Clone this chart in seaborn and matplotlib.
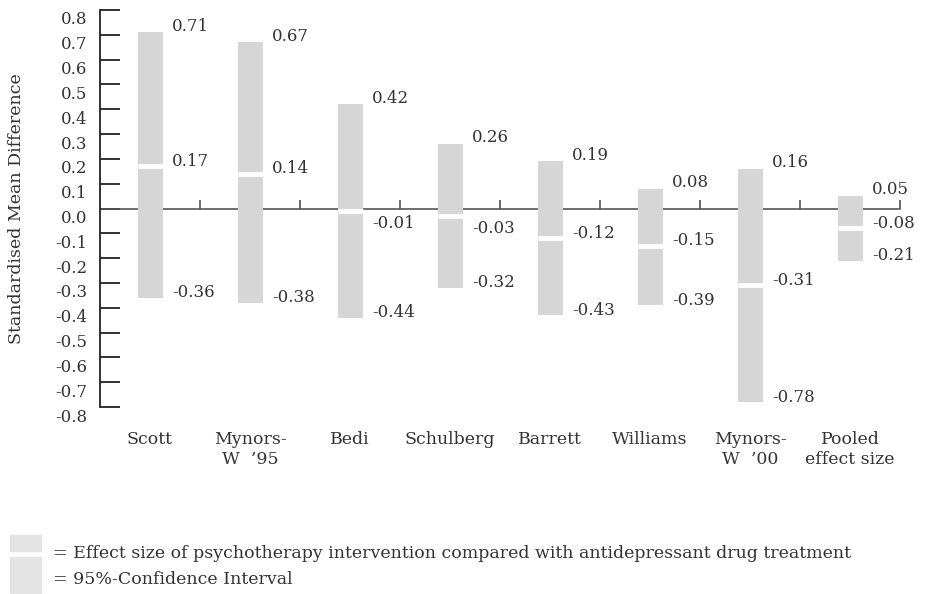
import matplotlib
matplotlib.use("Agg")
import matplotlib.pyplot as plt
import matplotlib.transforms as mtransforms
from matplotlib.patches import Rectangle
import pandas as pd
import seaborn as sns

# Data
studies = ["Scott", "Mynors-\nW  \u201995", "Bedi", "Schulberg", "Barrett",
           "Williams", "Mynors-\nW  \u201900", "Pooled\neffect size"]
upper = [0.71, 0.67, 0.42, 0.26, 0.19, 0.08, 0.16, 0.05]
effect = [0.17, 0.14, -0.01, -0.03, -0.12, -0.15, -0.31, -0.08]
lower = [-0.36, -0.38, -0.44, -0.32, -0.43, -0.39, -0.78, -0.21]
yticks = [round(-0.8 + 0.1 * i, 1) for i in range(17)]

df = pd.DataFrame({"study": studies, "upper": upper, "effect": effect, "lower": lower})
df["span"] = df["upper"] - df["lower"]

sns.set_style("white")
plt.rcParams["font.family"] = ["DejaVu Serif"]
text_col = "#333333"
bar_col = "#d6d6d6"
num_size = 12
word_size = 12.5

fig = plt.figure(figsize=(9.26, 5.94), dpi=100)
ax = fig.add_axes([100 / 926, 1 - 407 / 594, 800 / 926, 397 / 594])

# CI bars: drawn with seaborn, then shifted to start at the lower bound
sns.barplot(data=df, x="study", y="span", color=bar_col, width=0.25,
            saturation=1, ax=ax, zorder=3)
for patch, lo in zip(ax.patches, df["lower"]):
    patch.set_y(lo)
    patch.set_edgecolor("none")

# effect size marks
xs = range(len(df))
ax.hlines(df["effect"], [x - 0.125 for x in xs], [x + 0.125 for x in xs],
          color="white", lw=3.5, zorder=4)

# zero line with small ticks between studies
ax.axhline(0, color="#555555", lw=1.2, zorder=2, clip_on=False)
ax.vlines([x + 0.5 for x in range(len(df))], 0, 0.036, color="#555555", lw=1.2,
          zorder=2, clip_on=False)

# value labels
for x, (hi, mid, lo) in enumerate(zip(df["upper"], df["effect"], df["lower"])):
    ax.text(x + 0.22, hi + 0.025, f"{hi:.2f}", ha="left", va="center", fontsize=num_size, color=text_col)
    mid_y = mid - 0.05 if abs(mid) < 0.05 else mid + 0.02
    ax.text(x + 0.22, mid_y, f"{mid:.2f}", ha="left", va="center", fontsize=num_size, color=text_col)
    ax.text(x + 0.22, lo + 0.02, f"{lo:.2f}", ha="left", va="center", fontsize=num_size, color=text_col)

ax.set_xlim(-0.5, 7.5)
ax.set_ylim(-0.8, 0.8)
ax.set_yticks(yticks)
ax.set_yticklabels([f"{v:.1f}" for v in yticks], fontsize=num_size, color=text_col)
ax.tick_params(axis="y", direction="in", length=14.4, width=1.3, color="#222222", pad=9, left=True)
ax.tick_params(axis="x", bottom=False, labelsize=word_size, labelcolor=text_col, pad=14)
offset = mtransforms.ScaledTranslation(0, -0.08, fig.dpi_scale_trans)
for lab in ax.get_yticklabels():
    lab.set_transform(lab.get_transform() + offset)
for lab in ax.get_xticklabels():
    lab.set_verticalalignment("top")
    lab.set_linespacing(1.2)

for side in ["top", "right", "bottom"]:
    ax.spines[side].set_visible(False)
ax.spines["left"].set_color("#222222")
ax.spines["left"].set_linewidth(1.3)
ax.set_xlabel("")
ax.set_ylabel("Standardised Mean Difference", fontsize=word_size, color=text_col, labelpad=22)

# legend at the bottom
fig.patches.append(Rectangle((10 / 926, 1 - 551 / 594), 31 / 926, 16 / 594,
                             transform=fig.transFigure, color="#e4e4e4"))
fig.patches.append(Rectangle((10 / 926, 1 - 593 / 594), 31 / 926, 36 / 594,
                             transform=fig.transFigure, color="#e4e4e4"))
fig.text(53 / 926, 1 - 554 / 594,
         "= Effect size of psychotherapy intervention compared with antidepressant drug treatment",
         fontsize=word_size, color=text_col, va="center")
fig.text(53 / 926, 1 - 580 / 594, "= 95%-Confidence Interval",
         fontsize=word_size, color=text_col, va="center")

fig.savefig("out.png", dpi=100)
